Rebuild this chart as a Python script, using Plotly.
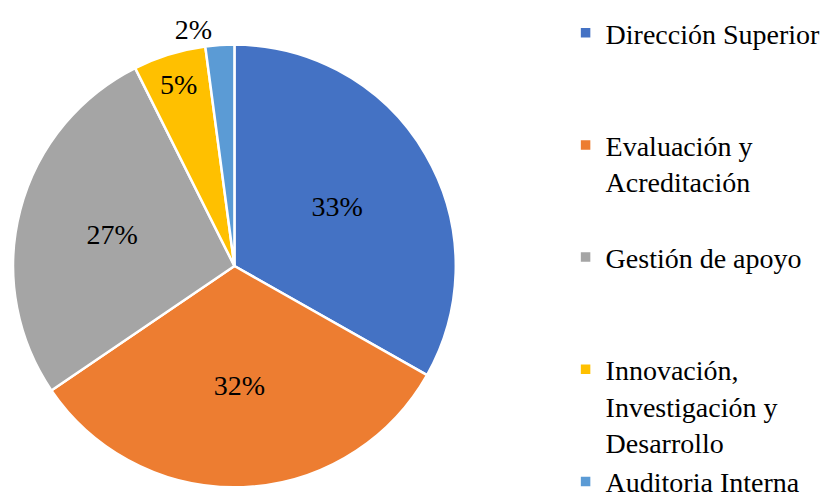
import plotly.graph_objects as go

labels = [
    "Dirección Superior",
    "Evaluación y<br>Acreditación",
    "Gestión de apoyo",
    "Innovación,<br>Investigación y<br>Desarrollo",
    "Auditoria Interna",
]
values = [33.2, 32.3, 27.1, 5.3, 2.1]
colors = ["#4472C4", "#ED7D31", "#A5A5A5", "#FFC000", "#5B9BD5"]
text_pos = ["inside", "inside", "inside", "inside", "outside"]

SERIF = "Times New Roman, Liberation Serif, serif"

# pad legend labels so each entry takes the same height, like the original
legend_labels = []
for i, lab in enumerate(labels):
    n = lab.count("<br>") + 1
    if i < len(labels) - 1:
        lab = lab + "<br> " * (3 - n)
    legend_labels.append(lab)

fig = go.Figure()

fig.add_trace(
    go.Pie(
        labels=legend_labels,
        values=values,
        sort=False,
        direction="clockwise",
        rotation=0,
        marker=dict(colors=colors, line=dict(color="white", width=2.5)),
        texttemplate="%{percent:.0%}",
        textposition=text_pos,
        insidetextorientation="horizontal",
        textfont=dict(family=SERIF, size=28, color="black"),
        domain=dict(x=[0.0037, 0.5384], y=[0.038, 0.928]),
        hovertemplate="%{label}: %{percent}<extra></extra>",
    )
)

fig.update_layout(
    width=830,
    height=499,
    paper_bgcolor="white",
    plot_bgcolor="white",
    margin=dict(l=0, r=0, t=0, b=0),
    font=dict(family=SERIF, size=28, color="black"),
    legend=dict(
        x=0.671,
        xanchor="left",
        y=0.982,
        yanchor="top",
        valign="top",
        font=dict(family=SERIF, size=28, color="black"),
        itemwidth=30,
    ),
)

fig.write_html("out.html")
